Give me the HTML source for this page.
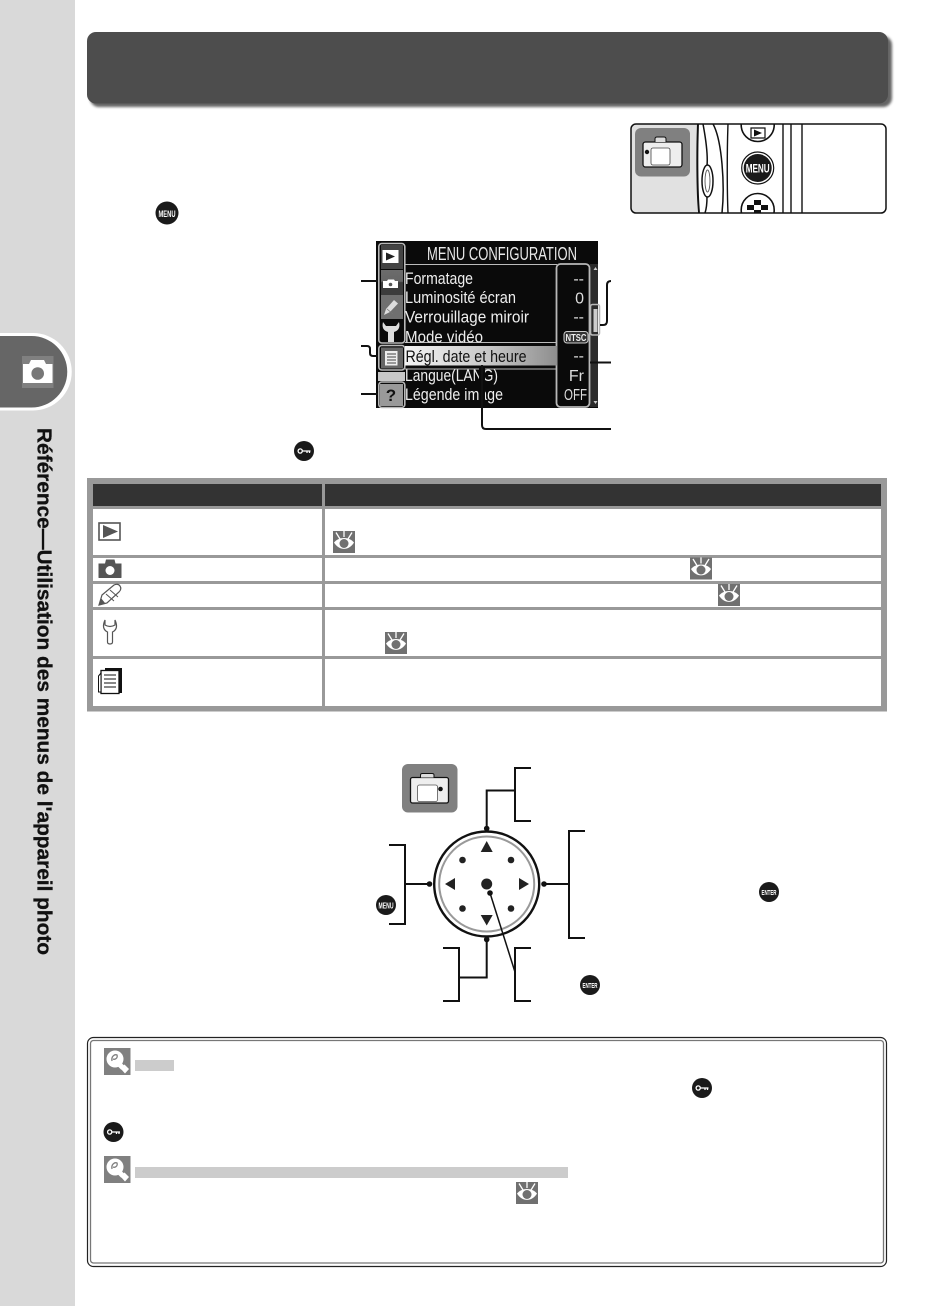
<!DOCTYPE html>
<html lang="fr">
<head>
<meta charset="utf-8">
<title>Référence</title>
<style>
html,body{margin:0;padding:0;background:#fff}
body{width:950px;height:1306px;overflow:hidden;position:relative}
svg{position:absolute;left:0;top:0;display:block}
text{font-family:"Liberation Sans",sans-serif}
</style>
</head>
<body>
<svg width="950" height="1306" viewBox="0 0 950 1306" xmlns="http://www.w3.org/2000/svg">
<defs>
  <filter id="blur" x="-5%" y="-20%" width="110%" height="140%"><feGaussianBlur stdDeviation="1.4"/></filter>
  <clipPath id="pc"><rect x="631" y="124" width="255" height="89" rx="5"/></clipPath>
  <clipPath id="screenclip"><rect x="405" y="325" width="152" height="18"/></clipPath>
  <linearGradient id="hl" x1="0" x2="1" y1="0" y2="0"><stop offset="0" stop-color="#f4f4f4"/><stop offset="0.55" stop-color="#c8c8c8"/><stop offset="1" stop-color="#8e8e8e"/></linearGradient>
  <linearGradient id="camtab" x1="0" x2="0" y1="0" y2="1"><stop offset="0" stop-color="#6c6c6c"/><stop offset=".45" stop-color="#666"/><stop offset=".5" stop-color="#3c3c3c"/><stop offset="1" stop-color="#3c3c3c"/></linearGradient>
  <g id="eye">
    <rect width="22" height="22" fill="#707070"/>
    <path d="M1 11.5C6 5.5 16 5.5 21 11.5C16 20 6 20 1 11.5Z" fill="#fff"/>
    <circle cx="11" cy="12.500" r="4.500" fill="#707070"/>
    <path d="M3 1.500L7 8M11 0V6M19 1.500L15 8" stroke="#fff" stroke-width="1.300" fill="none"/>
  </g>
  <g id="tip">
    <rect width="26.500" height="27" fill="#808080"/>
    <circle cx="11" cy="11" r="8.500" fill="#fff"/>
    <path d="M15 16L19 20" stroke="#fff" stroke-width="5"/>
    <path d="M16.500 20.500L20.500 16.500L25 21L21 25.500Z" fill="#fff"/>
    <path d="M8 13C7 8 11 6 13 7C14 10 11 12 9 11" fill="none" stroke="#808080" stroke-width="1.300"/>
  </g>
  <g id="key">
    <circle r="10" fill="#1a1a1a"/>
    <circle cx="-3.800" cy="0" r="2.100" fill="none" stroke="#fff" stroke-width="1.300"/>
    <path d="M-1.500 0H6.500M3 0V2M5.500 0V2" stroke="#fff" stroke-width="1.300" fill="none"/>
  </g>
</defs>

<!-- sidebar -->
<rect x="0" y="0" width="75" height="1306" fill="#d9d9d9"/>
<path d="M0 333H33A38.500 38.500 0 0 1 33 410.500H0Z" fill="#fff"/>
<path d="M0 336H31.500A35.500 35.500 0 0 1 31.500 407.500H0Z" fill="#666"/>
<rect x="22" y="356" width="31.500" height="32" fill="#808080"/>
<path d="M23 364H29L31 360H44L46 364H52.500V383H23Z" fill="#fff"/>
<circle cx="37.700" cy="373.500" r="6.300" fill="#777"/>
<text transform="translate(37.500 428) rotate(90)" font-size="20" font-weight="700" fill="#111" stroke="#111" stroke-width=".3" textLength="527" lengthAdjust="spacingAndGlyphs">Référence—Utilisation des menus de l'appareil photo</text>

<!-- header band -->
<rect x="90" y="36" width="802" height="71" rx="9" fill="#333" opacity=".75" filter="url(#blur)"/>
<rect x="87" y="32" width="801" height="71.500" rx="9" fill="#4d4d4d"/>

<!-- top-right camera panel -->
<g clip-path="url(#pc)">
  <rect x="631" y="124" width="66" height="89" fill="#e1e1e1"/>
  <rect x="635" y="128" width="55" height="48.500" rx="6" fill="#808080"/>
  <rect x="643" y="142" width="39" height="25" rx="2.500" fill="#eee" stroke="#111" stroke-width="1.300"/>
  <path d="M655 142V139Q655 137 657 137H664Q666 137 666 139V142" fill="#ddd" stroke="#111" stroke-width="1"/>
  <rect x="651" y="148" width="19" height="17" rx="2" fill="#fff" stroke="#444" stroke-width=".8"/>
  <circle cx="647" cy="152" r="2.200" fill="#111"/>
  <path d="M698 124C697 150 697 190 699 213" stroke="#111" stroke-width="2" fill="none"/>
  <path d="M703 124C706 140 708 155 707 166M707 197C707 205 706 210 705 213" stroke="#111" stroke-width="1.500" fill="none"/>
  <path d="M713 124C722 140 725 185 722 213" stroke="#111" stroke-width="1.500" fill="none"/>
  <ellipse cx="707.500" cy="181" rx="5.500" ry="16" fill="#fff" stroke="#111" stroke-width="1.500"/>
  <ellipse cx="707.500" cy="181" rx="2.500" ry="11" fill="none" stroke="#555" stroke-width=".9"/>
  <path d="M728 124C727 150 727 190 728 213M783 124V213M791 124V213M802 124V213" stroke="#111" stroke-width="1.400" fill="none"/>
  <circle cx="757.700" cy="125" r="16.500" fill="#fff" stroke="#111" stroke-width="1.600"/>
  <path d="M751 128H765V138H751Z" fill="#fff" stroke="#111" stroke-width="1.200"/><path d="M754 129.500L762 133L754 136.500Z" fill="#111"/>
  <circle cx="757.700" cy="168" r="16" fill="#fff" stroke="#111" stroke-width="1.200"/>
  <circle cx="757.700" cy="168" r="14" fill="#1a1a1a"/>
  <text x="757.700" y="172.500" font-size="12" font-weight="700" fill="#fff" text-anchor="middle" textLength="24" lengthAdjust="spacingAndGlyphs">MENU</text>
  <circle cx="757.700" cy="210" r="16.500" fill="#fff" stroke="#111" stroke-width="1.600"/>
  <rect x="747" y="205" width="7" height="5" fill="#111"/><rect x="761" y="205" width="7" height="5" fill="#111"/><rect x="754" y="200" width="7" height="5" fill="#111"/><rect x="754" y="210" width="7" height="4" fill="#111"/>
</g>
<rect x="631" y="124" width="255" height="89" rx="5" fill="none" stroke="#111" stroke-width="1.500"/>

<!-- small menu bullet -->
<circle cx="167" cy="213" r="11.500" fill="#1a1a1a"/>
<text x="167" y="217" font-size="9" font-weight="700" fill="#fff" text-anchor="middle" textLength="17" lengthAdjust="spacingAndGlyphs">MENU</text>

<!-- camera screen -->
<rect x="376" y="241" width="222" height="167" fill="#0a0a0a"/>
<rect x="590" y="264" width="8" height="143" fill="#2c2c2c"/>
<text x="427" y="260" font-size="18" fill="#e8e8e8" textLength="150" lengthAdjust="spacingAndGlyphs">MENU CONFIGURATION</text>
<!-- tabs -->
<rect x="381" y="245" width="22" height="24" fill="#444"/>
<rect x="382.500" y="250" width="16" height="13" fill="#fff"/>
<path d="M386 252.500L395 256.500L386 260.500Z" fill="#222"/>
<rect x="381" y="270" width="22" height="25" fill="url(#camtab)"/>
<path d="M383 281H387L388 279.500H394L395 281H398V288H383Z" fill="#fff"/><circle cx="390.500" cy="284.500" r="1.800" fill="#555"/>
<rect x="381" y="295" width="22" height="24" fill="#707070"/>
<path d="M384 315L386 309L394 300L398 303.500L390 312Z" fill="#ddd"/>
<path d="M387 309L393 314" stroke="#777" stroke-width=".8"/>
<rect x="381" y="319" width="22" height="23" fill="#0a0a0a"/>
<path d="M383 322Q381 330 388 332V342H394V332Q401 330 399 322L396 326H386Z" fill="#ddd"/>
<rect x="381" y="347.500" width="22" height="21" fill="#666"/>
<rect x="385" y="351" width="12.500" height="14.500" fill="#eee"/>
<path d="M387 354H396M387 357H396M387 360H396M387 363H396" stroke="#444" stroke-width="1"/>
<rect x="378" y="372" width="27" height="9" fill="#c8c8c8"/>
<rect x="380" y="384" width="23" height="22" fill="#999"/>
<text x="391" y="401" font-size="17" font-weight="700" fill="#111" text-anchor="middle">?</text>
<g fill="none" stroke="#b8b8b8" stroke-width="1.600">
  <rect x="378.800" y="243.500" width="26" height="99.500" rx="3"/>
  <rect x="378.800" y="345.500" width="26" height="24.500" rx="3"/>
  <rect x="378.800" y="382" width="26" height="25.500" rx="3"/>
  <rect x="556.500" y="264" width="33" height="143" rx="4" stroke-width="1.800"/>
  <rect x="590.500" y="304.500" width="9" height="30.500" rx="2"/>
</g>
<path d="M405 264.500H557M405 342.500H557M405 369H557" stroke="#bbb" stroke-width="1"/>
<rect x="593.500" y="309" width="4" height="23" fill="#ccc"/>
<path d="M595.500 267L593.500 270H597.500ZM595.500 404L593.500 401H597.500Z" fill="#ccc"/>
<g font-size="16.500" fill="#eee">
  <text x="405" y="284" textLength="68" lengthAdjust="spacingAndGlyphs">Formatage</text>
  <text x="405" y="303" textLength="111" lengthAdjust="spacingAndGlyphs">Luminosité écran</text>
  <text x="405" y="322.500" textLength="124" lengthAdjust="spacingAndGlyphs">Verrouillage miroir</text>
  <text x="405" y="342.500" textLength="78" lengthAdjust="spacingAndGlyphs" clip-path="url(#screenclip)">Mode vidéo</text>
  <text x="405" y="381" textLength="93" lengthAdjust="spacingAndGlyphs">Langue(LANG)</text>
  <text x="405" y="400" textLength="98" lengthAdjust="spacingAndGlyphs">Légende image</text>
</g>
<rect x="405" y="346" width="152" height="19.500" fill="url(#hl)"/>
<text x="405.500" y="362" font-size="16.500" fill="#111" textLength="121" lengthAdjust="spacingAndGlyphs">Régl. date et heure</text>
<g font-size="16" fill="#ddd" text-anchor="end">
  <text x="584" y="284">--</text>
  <text x="584" y="303.500">0</text>
  <text x="584" y="322">--</text>
  <text x="584" y="361">--</text>
  <text x="584" y="381">Fr</text>
  <text x="587" y="400" textLength="23" lengthAdjust="spacingAndGlyphs">OFF</text>
</g>
<rect x="564" y="331.500" width="24" height="11.500" rx="3" fill="#333" stroke="#ccc" stroke-width="1"/>
<text x="576" y="341" font-size="10" font-weight="700" fill="#eee" text-anchor="middle" textLength="21" lengthAdjust="spacingAndGlyphs">NTSC</text>

<!-- screen connectors -->
<rect x="479" y="365.500" width="6" height="42.500" fill="#0a0a0a"/>
<g fill="none" stroke="#111" stroke-width="2">
  <path d="M361 281H378"/>
  <path d="M361 346H367Q370 346 370 349V353Q370 356 373 356H378"/>
  <path d="M361 394H378"/>
  <path d="M611 281Q607 281 607 285V321Q607 325 603 325H600"/>
  <path d="M590 362.500H611"/>
  <path d="M482 365V425Q482 429 486 429H611"/>
</g>
<use href="#key" transform="translate(304 451)"/>

<!-- table -->
<rect x="87" y="478" width="800" height="233.500" fill="#999"/>
<rect x="93" y="484" width="229" height="22" fill="#333"/>
<rect x="325" y="484" width="556" height="22" fill="#333"/>
<g fill="#fff">
  <rect x="93" y="509" width="229" height="46"/><rect x="325" y="509" width="556" height="46"/>
  <rect x="93" y="558" width="229" height="23"/><rect x="325" y="558" width="556" height="23"/>
  <rect x="93" y="584" width="229" height="23"/><rect x="325" y="584" width="556" height="23"/>
  <rect x="93" y="610" width="229" height="46"/><rect x="325" y="610" width="556" height="46"/>
  <rect x="93" y="659" width="229" height="47"/><rect x="325" y="659" width="556" height="47"/>
</g>
<!-- table icons -->
<rect x="99" y="523" width="21" height="17" fill="#fff" stroke="#555" stroke-width="1.600"/>
<path d="M103 525L118 531.500L103 538Z" fill="#555"/>
<path d="M98.500 563.500H105L106 559.500H114.500L115.500 563.500H121.500V577.500Q121.500 578 121 578H99Q98.500 578 98.500 577.500Z" fill="#555"/>
<circle cx="110" cy="570.500" r="4.500" fill="#fff"/>
<path d="M99 605L102 595L114 585Q118 583 120 586Q122 589 119 592L107 603Z" fill="#fff" stroke="#555" stroke-width="1.200"/>
<path d="M106 594L114 601M110 590L118 597" stroke="#555" stroke-width="1" fill="none"/>
<path d="M99 605L101 598L105 603Z" fill="#555"/>
<path d="M105 620Q101 629 107.500 632V642Q107.500 644 110 644Q112.500 644 112.500 642V632Q119 629 115 620V625Q110 628 105 625Z" fill="#fff" stroke="#555" stroke-width="1.200"/>
<rect x="105" y="668" width="17" height="25" fill="#111"/>
<rect x="101" y="670.500" width="18" height="23" fill="#fff" stroke="#111" stroke-width="1.300"/>
<path d="M98.500 676L101 673V692H98.500Z" fill="#fff" stroke="#111" stroke-width="1"/>
<path d="M104 675H116M104 679H116M104 683H116M104 687H116" stroke="#111" stroke-width="1.100"/>
<use href="#eye" x="333" y="531"/>
<use href="#eye" x="690" y="557.500"/>
<use href="#eye" x="718" y="584"/>
<use href="#eye" x="385" y="632"/>

<!-- dial diagram -->
<rect x="402" y="764" width="55.500" height="48.500" rx="6" fill="#808080"/>
<g transform="translate(402 764)">
  <rect x="8.500" y="13.500" width="38" height="25.500" rx="2" fill="#eee" stroke="#111" stroke-width="1.300"/>
  <path d="M18.500 13.500V11Q18.500 9.500 20.500 9.500H30Q32 9.500 32 11V13.500" fill="#ddd" stroke="#111" stroke-width="1"/>
  <rect x="15.500" y="21" width="20" height="16.500" rx="2" fill="#fff" stroke="#555" stroke-width=".8"/>
  <circle cx="38.500" cy="25" r="2.300" fill="#111"/>
</g>
<circle cx="486.700" cy="884" r="52.500" fill="#fff" stroke="#111" stroke-width="2.400"/>
<circle cx="486.700" cy="884" r="47.500" fill="none" stroke="#999" stroke-width="2"/>
<g fill="#222">
  <path d="M486.700 841L492.700 852H480.700Z"/>
  <path d="M486.700 925.500L492.700 915H480.700Z"/>
  <path d="M445 884L455 878V890Z"/>
  <path d="M529 884L519 878V890Z"/>
  <circle cx="486.700" cy="884" r="5.500"/>
  <circle cx="462.500" cy="860" r="3.300"/><circle cx="511" cy="860" r="3.300"/>
  <circle cx="462.500" cy="908.500" r="3.300"/><circle cx="511" cy="908.500" r="3.300"/>
</g>
<g fill="none" stroke="#111" stroke-width="2">
  <path d="M531 768H515V821H531M515 790.500H486.700V828"/>
  <path d="M585 831H569V938H585M569 884H544"/>
  <path d="M389 845H405V924H389M405 884H429.500"/>
  <path d="M443 948H459V1001H443M459 977.500H486.700V939"/>
  <path d="M531 948H515V1001H531"/>
  <path d="M490 893L515 972" stroke-width="1.500"/>
</g>
<g fill="#111">
  <circle cx="486.700" cy="828.500" r="2.800"/>
  <circle cx="544" cy="884" r="2.800"/>
  <circle cx="429.500" cy="884" r="2.800"/>
  <circle cx="486.700" cy="939.500" r="2.800"/>
  <circle cx="490" cy="893" r="2.800"/>
</g>
<circle cx="386" cy="905" r="10" fill="#1a1a1a"/>
<text x="386" y="908.500" font-size="8" font-weight="700" fill="#fff" text-anchor="middle" textLength="15" lengthAdjust="spacingAndGlyphs">MENU</text>
<circle cx="769" cy="892" r="10" fill="#1a1a1a"/>
<text x="769" y="895" font-size="7.500" font-weight="700" fill="#fff" text-anchor="middle" textLength="15" lengthAdjust="spacingAndGlyphs">ENTER</text>
<circle cx="590" cy="985" r="10" fill="#1a1a1a"/>
<text x="590" y="988" font-size="7.500" font-weight="700" fill="#fff" text-anchor="middle" textLength="15" lengthAdjust="spacingAndGlyphs">ENTER</text>

<!-- note box -->
<rect x="87.500" y="1037.500" width="799" height="229" rx="6" fill="#fff" stroke="#222" stroke-width="1.200"/>
<rect x="90.500" y="1040.500" width="793" height="222.500" rx="3" fill="#fff" stroke="#777" stroke-width="1.300"/>
<use href="#tip" x="104" y="1048"/>
<rect x="135" y="1060" width="39" height="11" fill="#ccc"/>
<use href="#key" transform="translate(702 1088)"/>
<use href="#key" transform="translate(113.500 1132)"/>
<use href="#tip" x="104" y="1156"/>
<rect x="135" y="1167" width="433" height="11" fill="#ccc"/>
<use href="#eye" x="516" y="1182"/>
</svg>
</body>
</html>
